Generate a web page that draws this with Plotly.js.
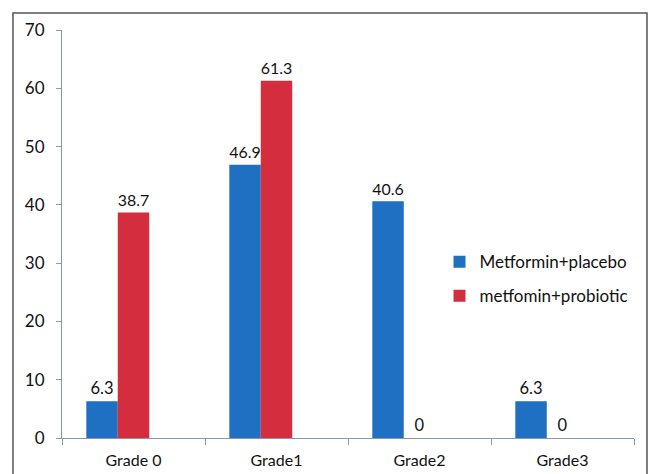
<!DOCTYPE html>
<html>
<head>
<meta charset="utf-8">
<script src="https://cdn.plot.ly/plotly-3.0.1.min.js"></script>
<style>html,body{margin:0;padding:0;background:#fff;}#chart{width:652px;height:474px;}</style>
</head>
<body>
<div id="chart"></div>
<script>
const categories = ["Grade 0", "Grade1", "Grade2", "Grade3"];
const placeboName = "Metformin+placebo";
const probioticName = "metfomin+probiotic";
const placeboValues = [6.3, 46.9, 40.6, 6.3];
const probioticValues = [38.7, 61.3, 0, 0];
const yTicks = [0, 10, 20, 30, 40, 50, 60, 70];

const fontFam = "Lato, 'Open Sans', sans-serif";

const traces = [
  {
    type: "bar", name: placeboName, x: categories, y: placeboValues,
    text: placeboValues.map(String), textposition: "outside",
    textfont: {family: fontFam, size: 16.5, color: "#111"},
    marker: {color: "#1f6fc3", line: {width: 0}},
    width: 0.22, offset: -0.33, cliponaxis: false, legendgroup: "a"
  },
  {
    type: "bar", name: probioticName, x: categories, y: probioticValues,
    text: probioticValues.map(String), textposition: "outside",
    textfont: {family: fontFam, size: 16.5, color: "#111"},
    marker: {color: "#d42d3e", line: {width: 0}},
    width: 0.22, offset: -0.11, cliponaxis: false, legendgroup: "b"
  }
];

const layout = {
  width: 652, height: 474,
  margin: {l: 62, r: 18, t: 30, b: 36},
  paper_bgcolor: "#fff", plot_bgcolor: "#fff",
  font: {family: fontFam, size: 14, color: "#111"},
  showlegend: true,
  legend: {x: 0.66, y: 0.475, xanchor: "left", yanchor: "top",
           font: {family: fontFam, size: 17, color: "#111"},
           traceorder: "grouped", tracegroupgap: 9, bgcolor: "rgba(0,0,0,0)"},
  xaxis: {type: "category", showgrid: false, showline: true, linecolor: "#8a99a3", linewidth: 1,
          ticks: "outside", tickson: "boundaries", ticklen: 6, tickcolor: "#8a99a3",
          ticklabelstandoff: 8,
          tickfont: {family: fontFam, size: 16, color: "#111"}, zeroline: false, fixedrange: true},
  yaxis: {range: [0, 70], tickvals: yTicks, ticktext: yTicks.map(String), showgrid: false,
          showline: true, linecolor: "#8a99a3", linewidth: 1, ticks: "outside", ticklen: 5,
          tickcolor: "#8a99a3", tickfont: {family: fontFam, size: 17, color: "#111"},
          zeroline: false, ticklabelstandoff: 8},
  shapes: [{type: "rect", xref: "paper", yref: "paper", x0: -0.0857, x1: 1.0227, y0: -0.2, y1: 1.0417,
            line: {color: "#555", width: 1.5}, fillcolor: "rgba(0,0,0,0)"}]
};

Plotly.newPlot("chart", traces, layout, {displayModeBar: false, staticPlot: true});
</script>
</body>
</html>
